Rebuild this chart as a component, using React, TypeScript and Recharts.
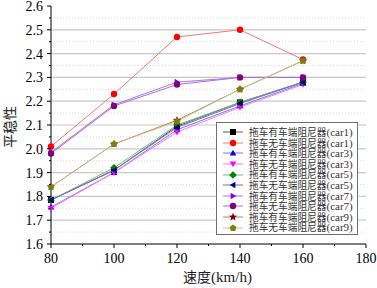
import React from 'react';
import { LineChart, Line, XAxis, YAxis, ReferenceLine, Legend, Label } from 'recharts';

const speeds = [80, 100, 120, 140, 160];
const xMajorTicks = [80, 100, 120, 140, 160, 180];
const xMinorTicks = [90, 110, 130, 150, 170];
const yMajorTicks = [1.6, 1.7, 1.8, 1.9, 2.0, 2.1, 2.2, 2.3, 2.4, 2.5, 2.6];
const yMinorTicks = [1.65, 1.75, 1.85, 1.95, 2.05, 2.15, 2.25, 2.35, 2.45, 2.55];

const car1With = [1.785, 1.91, 2.095, 2.195, 2.28];
const car1Without = [2.01, 2.23, 2.47, 2.5, 2.375];
const car3With = [1.755, 1.9, 2.08, 2.18, 2.275];
const car3Without = [1.75, 1.9, 2.07, 2.175, 2.27];
const car5With = [1.785, 1.92, 2.1, 2.195, 2.28];
const car5Without = [1.785, 1.91, 2.09, 2.19, 2.28];
const car7With = [1.985, 2.185, 2.28, 2.3, 2.3];
const car7Without = [1.98, 2.18, 2.27, 2.3, 2.3];
const car9With = [1.84, 2.02, 2.12, 2.25, 2.37];
const car9Without = [1.84, 2.02, 2.115, 2.25, 2.37];

const seriesNames = [
  '拖车有车端阻尼器(car1)',
  '拖车无车端阻尼器(car1)',
  '拖车有车端阻尼器(car3)',
  '拖车无车端阻尼器(car3)',
  '拖车有车端阻尼器(car5)',
  '拖车无车端阻尼器(car5)',
  '拖车有车端阻尼器(car7)',
  '拖车无车端阻尼器(car7)',
  '拖车有车端阻尼器(car9)',
  '拖车无车端阻尼器(car9)',
];
const seriesValues = [car1With, car1Without, car3With, car3Without, car5With, car5Without, car7With, car7Without, car9With, car9Without];
const markerColors = ['#000000', '#ff0000', '#0000ff', '#ff00ff', '#008000', '#000080', '#8000ff', '#800080', '#800000', '#808000'];
const lineColors = ['#606060', '#f07878', '#7878ff', '#ff78ff', '#78b878', '#7070b8', '#b070ff', '#b070c0', '#b88070', '#c8c890'];
const markerShapes = ['square', 'circle', 'up', 'down', 'diamond', 'left', 'right', 'circle', 'star', 'pentagon'];

const keys = seriesNames.map((_, i) => 's' + i);
const data = speeds.map((s, j) => {
  const row: any = { speed: s };
  seriesValues.forEach((vals, i) => { row[keys[i]] = vals[j]; });
  return row;
});

const FONT = "'Liberation Serif','Times New Roman','Noto Sans CJK SC',serif";

function polyPoints(cx: number, cy: number, r: number, n: number, rot: number, inner?: number) {
  const pts: string[] = [];
  const total = inner ? n * 2 : n;
  for (let k = 0; k < total; k++) {
    const rr = inner && k % 2 === 1 ? inner : r;
    const a = rot + (k * 2 * Math.PI) / total;
    pts.push(`${cx + rr * Math.cos(a)},${cy + rr * Math.sin(a)}`);
  }
  return pts.join(' ');
}

function marker(shape: string, cx: number, cy: number, color: string, key?: any) {
  const r = 3;
  switch (shape) {
    case 'square':
      return <rect key={key} x={cx - r} y={cy - r} width={2 * r} height={2 * r} fill={color} />;
    case 'circle':
      return <circle key={key} cx={cx} cy={cy} r={r + 0.2} fill={color} />;
    case 'up':
      return <polygon key={key} points={polyPoints(cx, cy + 0.5, 3.8, 3, -Math.PI / 2)} fill={color} />;
    case 'down':
      return <polygon key={key} points={polyPoints(cx, cy - 0.5, 3.8, 3, Math.PI / 2)} fill={color} />;
    case 'left':
      return <polygon key={key} points={polyPoints(cx + 0.5, cy, 3.8, 3, Math.PI)} fill={color} />;
    case 'right':
      return <polygon key={key} points={polyPoints(cx - 0.5, cy, 3.8, 3, 0)} fill={color} />;
    case 'diamond':
      return <polygon key={key} points={polyPoints(cx, cy, 3.8, 4, -Math.PI / 2)} fill={color} />;
    case 'star':
      return <polygon key={key} points={polyPoints(cx, cy, 4.3, 5, -Math.PI / 2, 1.9)} fill={color} />;
    case 'pentagon':
      return <polygon key={key} points={polyPoints(cx, cy, 3.6, 5, -Math.PI / 2)} fill={color} />;
    default:
      return <circle key={key} cx={cx} cy={cy} r={r} fill={color} />;
  }
}

const isIn = (v: number, arr: number[]) => arr.some((a) => Math.abs(a - v) < 1e-6);

const XTick = (props: any) => {
  const { x, y, payload } = props;
  const major = isIn(payload.value, xMajorTicks);
  return (
    <g>
      <line x1={x} x2={x} y1={y} y2={y + (major ? 4 : 2)} stroke="#000" strokeWidth={1} />
      {major && (
        <text x={x} y={y + 19} textAnchor="middle" fontSize={14} fontFamily={FONT} fill="#000">
          {payload.value}
        </text>
      )}
    </g>
  );
};

const YTick = (props: any) => {
  const { x, y, payload } = props;
  const major = isIn(payload.value, yMajorTicks);
  return (
    <g>
      <line x1={x - (major ? 4 : 2)} x2={x} y1={y} y2={y} stroke="#000" strokeWidth={1} />
      {major && (
        <text x={x - 8} y={y} dy="0.35em" textAnchor="end" fontSize={14} fontFamily={FONT} fill="#000">
          {Number(payload.value).toFixed(1)}
        </text>
      )}
    </g>
  );
};

const YLabel = (props: any) => {
  const vb = props.viewBox || {};
  const cx = 10;
  const cy = (vb.y || 0) + (vb.height || 0) / 2 + 2;
  return (
    <text x={cx} y={cy} transform={`rotate(-90 ${cx} ${cy})`} textAnchor="middle" dominantBaseline="central" fontSize={14} fontFamily={FONT} fill="#222">
      平稳性
    </text>
  );
};

const XLabel = (props: any) => {
  const vb = props.viewBox || {};
  const cx = (vb.x || 0) + (vb.width || 0) / 2 + 9;
  const cy = (vb.y || 0) + 38;
  return (
    <text x={cx} y={cy} fontSize={15} textAnchor="middle" fontFamily={FONT} fill="#222">
      <tspan fontSize={14}>速度</tspan>
      <tspan>(km/h)</tspan>
    </text>
  );
};

const LegendContent = () => (
  <div style={{ width: 142, height: 113, boxSizing: 'border-box', border: '1px solid #707070', background: '#fff', paddingTop: 4, paddingLeft: 6 }}>
    {seriesNames.map((name, i) => {
      const cut = name.indexOf('(');
      return (
        <div key={name} style={{ display: 'flex', alignItems: 'center', height: 10.6, lineHeight: '10.6px' }}>
          <svg width={22} height={10} style={{ flex: 'none' }}>
            <line x1={0} x2={20} y1={5} y2={5} stroke={lineColors[i]} strokeWidth={1} />
            {marker(markerShapes[i], 10, 5, markerColors[i])}
          </svg>
          <span style={{ fontFamily: FONT, color: '#333', marginLeft: 4, whiteSpace: 'nowrap' }}>
            <span style={{ fontSize: 9.7 }}>{name.slice(0, cut)}</span>
            <span style={{ fontSize: 11 }}>{name.slice(cut)}</span>
          </span>
        </div>
      );
    })}
  </div>
);

export default function App() {
  return (
    <div style={{ position: 'absolute', left: 0, top: 0, width: 377, height: 288, background: '#fff' }}>
      <LineChart width={377} height={288} data={data} margin={{ top: 6, right: 11, left: 0, bottom: 0 }}>
        {yMinorTicks.map((v) => (
          <ReferenceLine key={'mn' + v} y={v} stroke="#d8d8d8" strokeDasharray="1 2" ifOverflow="hidden" />
        ))}
        {yMajorTicks.filter((v) => v > 1.6 && v < 2.6).map((v) => (
          <ReferenceLine key={'mj' + v} y={v} stroke="#c8c8c8" strokeWidth={1.2} ifOverflow="hidden" />
        ))}
        <XAxis
          dataKey="speed"
          type="number"
          domain={[80, 180]}
          ticks={[...xMajorTicks, ...xMinorTicks].sort((a, b) => a - b)}
          interval={0}
          height={44}
          tickSize={0}
          tickMargin={0}
          tickLine={false}
          tick={<XTick />}
          axisLine={{ stroke: '#000', strokeWidth: 1 }}
        >
          <Label content={<XLabel />} />
        </XAxis>
        <YAxis
          type="number"
          domain={[1.6, 2.6]}
          ticks={[...yMajorTicks, ...yMinorTicks].sort((a, b) => a - b)}
          interval={0}
          width={51}
          tickSize={0}
          tickMargin={0}
          tickLine={false}
          tick={<YTick />}
          axisLine={{ stroke: '#000', strokeWidth: 1 }}
        >
          <Label content={<YLabel />} />
        </YAxis>
        <Legend layout="vertical" align="center" verticalAlign="middle" content={<LegendContent />} wrapperStyle={{ position: 'absolute', left: 216, top: 122, width: 142, height: 113 }} />
        {keys.map((k, i) => (
          <Line
            key={k}
            dataKey={k}
            name={seriesNames[i]}
            stroke={lineColors[i]}
            strokeWidth={1}
            isAnimationActive={false}
            dot={(p: any) => marker(markerShapes[i], p.cx, p.cy, markerColors[i], `${k}-${p.index}`)}
            activeDot={false}
          />
        ))}
      </LineChart>
    </div>
  );
}
